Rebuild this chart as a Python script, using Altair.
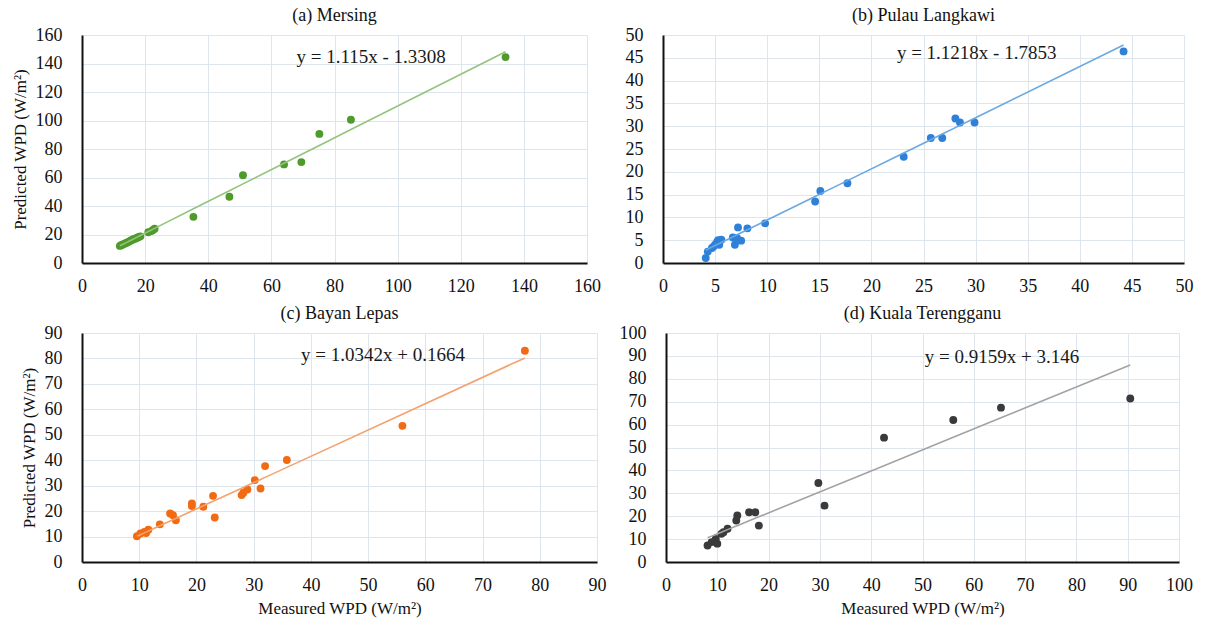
import altair as alt
import pandas as pd

FONT = "'Liberation Serif', 'Times New Roman', Times, serif"

# (a) Mersing
a_x = [12.0, 12.5, 13.0, 13.5, 14.0, 14.5, 15.0, 15.5, 16.0, 16.5, 17.0, 17.5, 18.0, 18.5,
       21.0, 22.0, 22.5, 23.0, 35.3, 46.7, 51.0, 64.0, 69.5, 75.2, 85.2, 134.2]
a_y = [12.0, 12.6, 13.0, 13.6, 14.0, 14.6, 15.2, 15.8, 16.3, 16.8, 17.2, 17.8, 18.3, 18.7,
       21.6, 22.4, 23.2, 24.0, 32.4, 46.5, 61.6, 69.2, 70.8, 90.6, 100.5, 144.5]

# (b) Pulau Langkawi
b_x = [4.1, 4.3, 4.7, 4.85, 5.0, 5.2, 5.4, 5.6, 5.3, 6.7, 6.9, 7.1, 7.2, 7.5, 8.1,
       9.8, 14.6, 15.1, 17.7, 23.1, 25.7, 26.8, 28.06, 28.5, 29.9, 44.2]
b_y = [1.1, 2.5, 3.3, 3.6, 4.0, 4.7, 4.0, 5.1, 5.0, 5.6, 4.0, 5.5, 7.8, 4.9, 7.6,
       8.7, 13.5, 15.8, 17.5, 23.3, 27.4, 27.4, 31.7, 30.8, 30.8, 46.4]

# (c) Bayan Lepas
c_x = [9.6, 10.2, 10.9, 11.2, 11.6, 13.6, 15.4, 15.9, 16.4, 19.2, 19.2, 21.2, 22.9, 23.2,
       27.9, 28.2, 28.9, 30.2, 31.2, 32.0, 35.8, 56.0, 77.4]
c_y = [10.1, 11.2, 11.8, 11.4, 12.7, 14.8, 19.1, 18.4, 16.4, 23.0, 22.0, 21.7, 26.0, 17.5,
       26.3, 27.2, 28.5, 32.2, 28.9, 37.7, 40.1, 53.5, 83.0]

# (d) Kuala Terengganu
d_x = [8.1, 8.9, 9.7, 10.0, 10.8, 11.2, 12.0, 13.7, 13.9, 16.2, 17.4, 18.1, 29.7, 30.9,
       42.5, 56.0, 65.3, 90.5]
d_y = [7.2, 8.7, 10.1, 8.0, 12.3, 13.0, 14.5, 18.1, 20.3, 21.7, 21.7, 15.9, 34.5, 24.6,
       54.3, 62.0, 67.4, 71.4]

PANELS = [
    dict(x=a_x, y=a_y, title="(a) Mersing", slope=1.115, icpt=-1.3308,
         eq="y = 1.115x - 1.3308", eqx=91.6, eqy=144.6, xmax=160, xstep=20, ymax=160, ystep=20,
         pt="#4f9a2c", ln="#93c47d", w=505, h=228, ytitle=True, xtitle=False),
    dict(x=b_x, y=b_y, title="(b) Pulau Langkawi", slope=1.1218, icpt=-1.7853,
         eq="y = 1.1218x - 1.7853", eqx=30.1, eqy=46.0, xmax=50, xstep=5, ymax=50, ystep=5,
         pt="#2f80d8", ln="#6aa8e2", w=521, h=228, ytitle=False, xtitle=False),
    dict(x=c_x, y=c_y, title="(c) Bayan Lepas", slope=1.0342, icpt=0.1664,
         eq="y = 1.0342x + 0.1664", eqx=52.6, eqy=81.4, xmax=90, xstep=10, ymax=90, ystep=10,
         pt="#f26b14", ln="#f4a26e", w=515, h=229, ytitle=True, xtitle=True),
    dict(x=d_x, y=d_y, title="(d) Kuala Terengganu", slope=0.9159, icpt=3.146,
         eq="y = 0.9159x + 3.146", eqx=65.5, eqy=89.5, xmax=100, xstep=10, ymax=100, ystep=10,
         pt="#3a3a3a", ln="#a3a3a3", w=513, h=229, ytitle=False, xtitle=True),
]


def panel(p):
    df = pd.DataFrame({"x": p["x"], "y": p["y"]})
    xs = alt.Scale(domain=[0, p["xmax"]], nice=False)
    ys = alt.Scale(domain=[0, p["ymax"]], nice=False)
    xkw = dict(values=list(range(0, p["xmax"] + 1, p["xstep"])), labelOverlap=False)
    ykw = dict(values=list(range(0, p["ymax"] + 1, p["ystep"])), labelOverlap=False)
    xkw["title"] = "Measured WPD (W/m²)" if p["xtitle"] else ""
    ykw["title"] = "Predicted WPD (W/m²)" if p["ytitle"] else ""
    xa = alt.Axis(**xkw)
    ya = alt.Axis(**ykw)
    base = alt.Chart(df)
    pts = base.mark_circle(size=62, opacity=1, color=p["pt"]).encode(
        x=alt.X("x:Q", scale=xs, axis=xa),
        y=alt.Y("y:Q", scale=ys, axis=ya),
    )
    line = base.transform_calculate(
        yfit=f"{p['slope']} * datum.x + ({p['icpt']})"
    ).mark_line(color=p["ln"], strokeWidth=1.6).encode(
        x=alt.X("x:Q", scale=xs, axis=xa), y=alt.Y("yfit:Q", scale=ys, axis=ya),
        order="x:Q"
    )
    eq = alt.Chart(pd.DataFrame({"x": [p["eqx"]], "y": [p["eqy"]], "t": [p["eq"]]})).mark_text(
        font=FONT, fontSize=19, color="#1a1a1a", align="center", baseline="middle"
    ).encode(x=alt.X("x:Q", scale=xs, axis=xa), y=alt.Y("y:Q", scale=ys, axis=ya),
             text="t:N")
    return alt.layer(pts, line, eq).properties(
        width=p["w"], height=p["h"],
        title=alt.Title(p["title"], font=FONT, fontSize=18, fontWeight="normal",
                        color="#111111", anchor="middle", offset=1),
    )


top = alt.hconcat(panel(PANELS[0]), panel(PANELS[1]), spacing=24)
bottom = alt.hconcat(panel(PANELS[2]), panel(PANELS[3]), spacing=13)
chart = alt.vconcat(top, bottom, spacing=10).configure_view(stroke=None).configure_axis(
    domainColor="#111111", domainWidth=2, gridColor="#dfe5ec", gridWidth=1,
    ticks=False, labelFont=FONT, labelFontSize=18, labelColor="#111111",
    labelFlush=False,
    titleFont=FONT, titleFontSize=17, titleFontWeight="normal", titleColor="#111111",
).configure_axisX(labelPadding=14, titlePadding=6).configure_axisY(
    labelPadding=20, titlePadding=6
).properties(background="white", padding={"left": 11, "top": 7, "right": 5, "bottom": 2})

chart.save("out.html", embed_options={"renderer": "svg", "actions": False})
